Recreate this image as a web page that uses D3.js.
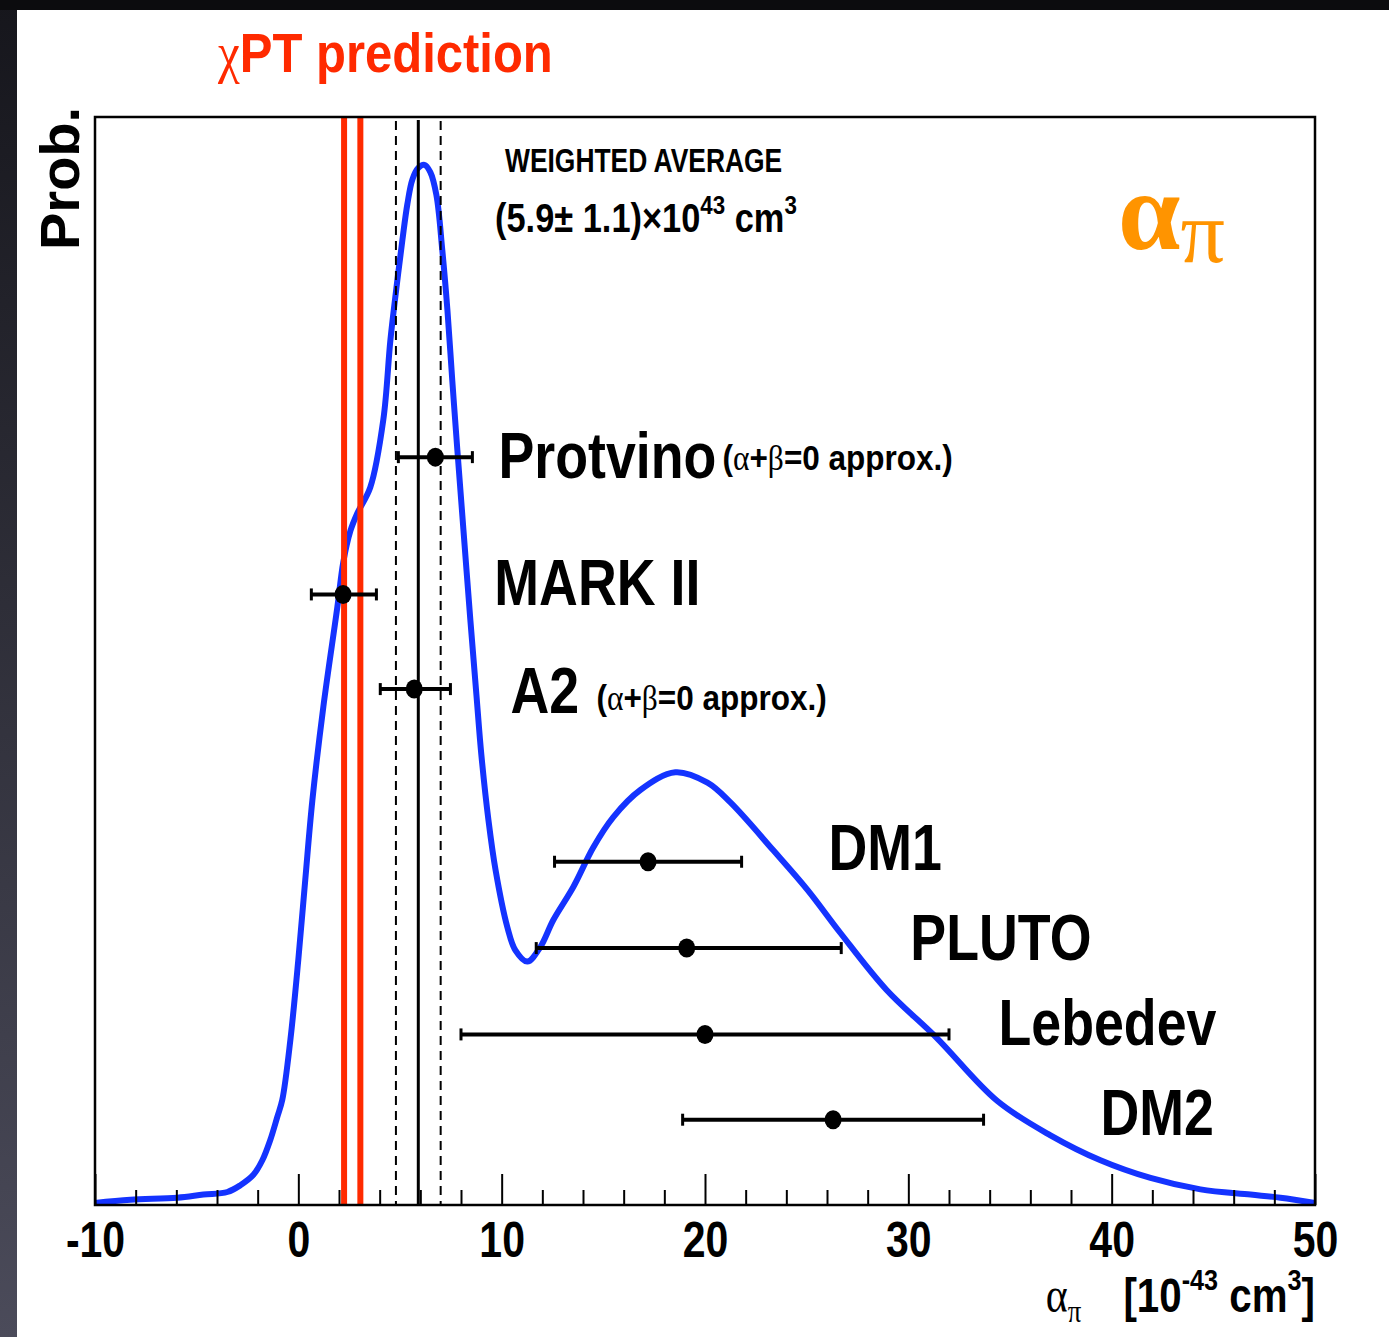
<!DOCTYPE html>
<html>
<head>
<meta charset="utf-8">
<script src="https://cdn.jsdelivr.net/npm/d3@7"></script>
<style>
  html, body { margin: 0; padding: 0; background: #fff; }
  svg { display: block; }
</style>
</head>
<body>
<svg id="chart" width="1389" height="1337"></svg>
<script>
// probability curve (alpha in 1e-43 cm^3, prob in arb. units, peak = 1)
const alphaGrid = [-10, -8.26, -5.95, -4.67, -3.49, -2.85, -2.21, -1.77, -1.38, -1.03, -0.79, -0.39,
  0, 0.34, 0.69, 1.23, 1.92, 2.21, 2.56, 2.9, 3.54, 4.18, 4.53, 4.82, 5.12, 5.36, 5.61, 5.9, 6.2,
  6.49, 6.79, 7.08, 7.33, 7.57, 7.82, 8.12, 8.46, 8.76, 9.0, 9.35, 9.7, 10.28, 10.67, 11.26, 11.9,
  12.54, 13.53, 14.51, 15.49, 16.82, 18.54, 20.12, 21.25, 23.36, 25.04, 26.66, 28.92, 31.38, 34.38,
  36.99, 39.45, 41.91, 44.37, 46.83, 48.3, 50];
const probDensity = [0.002, 0.005, 0.007, 0.010, 0.0125, 0.019, 0.029, 0.043, 0.0625, 0.085, 0.101, 0.159,
  0.236, 0.3125, 0.389, 0.479, 0.575, 0.618, 0.648, 0.665, 0.690, 0.755, 0.832, 0.881, 0.928, 0.962, 0.986, 0.997, 1.0,
  0.993, 0.971, 0.918, 0.861, 0.793, 0.726, 0.649, 0.5625, 0.490, 0.433, 0.370, 0.322, 0.267, 0.245, 0.234, 0.248,
  0.274, 0.306, 0.344, 0.373, 0.399, 0.416, 0.406, 0.387, 0.341, 0.303, 0.2615, 0.207, 0.161, 0.100,
  0.067, 0.043, 0.026, 0.015, 0.010, 0.007, 0.002];

// measurements
const expNames = ["Protvino", "MARK II", "A2", "DM1", "PLUTO", "Lebedev", "DM2"];
const expNotes = ["(α+β=0 approx.)", "", "(α+β=0 approx.)", "", "", "", ""];
const expValue = [6.74, 2.2, 5.7, 17.2, 19.1, 20.0, 26.3];
const expLow = [4.92, 0.64, 4.03, 12.6, 11.7, 8.0, 18.9];
const expHigh = [8.56, 3.84, 7.48, 21.8, 26.7, 32.0, 33.7];
const expRow = [0.719, 0.587, 0.496, 0.330, 0.247, 0.164, 0.082];

const chptLines = [2.25, 3.05];
const avgValue = 5.9;
const avgErr = 1.1;

const majorTicks = [-10, 0, 10, 20, 30, 40, 50];
const minorTicks = d3.range(-10, 51, 2).filter(d => d % 10 !== 0);

// layout of the labels (not data)
const labelX = [9.84, 9.64, 10.43, 26.07, 30.1, 34.43, 39.45];
const labelDy = [21, 11, 24, 8, 12, 11, 15];
const noteX = [20.86, 0, 14.66, 0, 0, 0, 0];
const noteDy = [13, 0, 21, 0, 0, 0, 0];

const W = 1389, H = 1337;
const margin = { top: 117, left: 95, bottom: 1205, right: 1315 };
const sans = "'Liberation Sans', Arial, Helvetica, sans-serif";
const serif = "'Liberation Serif', 'Times New Roman', serif";

const svg = d3.select("#chart");

// dark border like the slide
const defs = svg.append("defs");
const grad = defs.append("linearGradient").attr("id", "side").attr("x1", 0).attr("y1", 0).attr("x2", 0).attr("y2", 1);
grad.append("stop").attr("offset", "0%").attr("stop-color", "#16161c");
grad.append("stop").attr("offset", "100%").attr("stop-color", "#4b4b5a");
svg.append("rect").attr("width", W).attr("height", H).attr("fill", "url(#side)");
svg.append("rect").attr("width", W).attr("height", 10).attr("fill", "#0c0c0e");
svg.append("rect").attr("x", 17).attr("y", 10).attr("width", W - 17).attr("height", H - 10).attr("fill", "#fff");

const x = d3.scaleLinear().domain([-10, 50]).range([margin.left, margin.right]);
const y = d3.scaleLinear().domain([0, 1.046]).range([margin.bottom, margin.top]);

// squeezed bold text, like the condensed Helvetica in the original
function label(g, px, py, size, sx, anchor) {
  return g.append("text")
    .attr("transform", `translate(${px},${py}) scale(${sx},1)`)
    .attr("text-anchor", anchor || "start")
    .style("font-family", sans)
    .style("font-weight", "bold")
    .style("font-size", size + "px");
}

// probability curve
const line = d3.line().x(d => x(d[0])).y(d => y(d[1])).curve(d3.curveCatmullRom.alpha(0.5));
svg.append("path")
  .datum(alphaGrid.map((a, i) => [a, probDensity[i]]))
  .attr("d", line)
  .attr("fill", "none")
  .attr("stroke", "#1433ff")
  .attr("stroke-width", 6)
  .attr("stroke-linejoin", "round");

// chiPT prediction band edges
svg.selectAll("line.chpt").data(chptLines).join("line")
  .attr("class", "chpt")
  .attr("x1", d => x(d)).attr("x2", d => x(d))
  .attr("y1", margin.top).attr("y2", margin.bottom)
  .attr("stroke", "#ff2a00").attr("stroke-width", 6);

// weighted average and its error
svg.selectAll("line.avgErr").data([avgValue - avgErr, avgValue + avgErr]).join("line")
  .attr("class", "avgErr")
  .attr("x1", d => x(d)).attr("x2", d => x(d))
  .attr("y1", margin.top + 4).attr("y2", margin.bottom)
  .attr("stroke", "#000").attr("stroke-width", 2)
  .attr("stroke-dasharray", "9,6");
svg.append("line")
  .attr("x1", x(avgValue)).attr("x2", x(avgValue))
  .attr("y1", margin.top + 3).attr("y2", margin.bottom)
  .attr("stroke", "#000").attr("stroke-width", 3);

// measurements with error bars
const meas = svg.append("g");
expNames.forEach((name, i) => {
  const cy = y(expRow[i]);
  meas.append("line")
    .attr("x1", x(expLow[i])).attr("x2", x(expHigh[i]))
    .attr("y1", cy).attr("y2", cy)
    .attr("stroke", "#000").attr("stroke-width", 4);
  [expLow[i], expHigh[i]].forEach(v => {
    meas.append("line")
      .attr("x1", x(v)).attr("x2", x(v))
      .attr("y1", cy - 6).attr("y2", cy + 6)
      .attr("stroke", "#000").attr("stroke-width", 3);
  });
  meas.append("ellipse")
    .attr("cx", x(expValue[i])).attr("cy", cy)
    .attr("rx", 8.5).attr("ry", 9.5).attr("fill", "#000");

  label(meas, x(labelX[i]), cy + labelDy[i], 64, 0.84).text(name);
  if (expNotes[i]) {
    const t = label(meas, x(noteX[i]), cy + noteDy[i], 35, 0.9);
    expNotes[i].split(/([αβ])/).forEach(part => {
      if (!part) return;
      const s = t.append("tspan").text(part);
      if (part === "α" || part === "β") s.style("font-family", serif).style("font-weight", "normal");
    });
  }
});

// x axis: major and minor ticks pointing inwards
const axisG = svg.append("g").attr("transform", `translate(0,${margin.bottom})`);
axisG.call(d3.axisBottom(x).tickValues(majorTicks).tickSize(-31).tickPadding(17).tickFormat(d => String(d)))
  .call(g => g.select(".domain").remove())
  .call(g => g.selectAll(".tick line").attr("stroke-width", 2))
  .call(g => g.selectAll(".tick text")
    .attr("fill", "#000")
    .attr("transform", "scale(0.82,1)")
    .style("font-family", sans).style("font-weight", "bold").style("font-size", "50px"));
svg.append("g").attr("transform", `translate(0,${margin.bottom})`)
  .call(d3.axisBottom(x).tickValues(minorTicks).tickSize(-15).tickFormat(""))
  .call(g => g.select(".domain").remove())
  .call(g => g.selectAll(".tick line").attr("stroke-width", 2));

// frame
svg.append("rect")
  .attr("x", margin.left).attr("y", margin.top)
  .attr("width", margin.right - margin.left).attr("height", margin.bottom - margin.top)
  .attr("fill", "none").attr("stroke", "#000").attr("stroke-width", 2.5);

// axis titles
const xt = label(svg, margin.right, 1312, 48, 0.84, "end");
xt.append("tspan").text("α").style("font-family", serif).style("font-weight", "normal").style("font-size", "50px");
xt.append("tspan").text("π").attr("dy", 10).style("font-family", serif).style("font-weight", "normal").style("font-size", "32px");
xt.append("tspan").text("[10").attr("dx", 50).attr("dy", -10);
xt.append("tspan").text("-43").attr("dy", -22).style("font-size", "30px");
xt.append("tspan").text(" cm").attr("dy", 22);
xt.append("tspan").text("3").attr("dy", -22).style("font-size", "30px");
xt.append("tspan").text("]").attr("dy", 22);

svg.append("text")
  .attr("transform", "translate(79,250) rotate(-90)")
  .style("font-family", sans).style("font-weight", "bold").style("font-size", "56px")
  .text("Prob.");

// header
const hd = label(svg, 218, 72, 56, 0.875).attr("fill", "#ff2a00");
hd.append("tspan").text("χ").style("font-family", serif).style("font-weight", "normal");
hd.append("tspan").text("PT prediction");

label(svg, 505, 172, 33, 0.8).text("WEIGHTED AVERAGE");
const wa = label(svg, 495, 232, 40, 0.86);
wa.append("tspan").text("(5.9± 1.1)×10");
wa.append("tspan").text("43").attr("dy", -18).style("font-size", "26px");
wa.append("tspan").text(" cm").attr("dy", 18);
wa.append("tspan").text("3").attr("dy", -18).style("font-size", "26px");

const ap = svg.append("text").attr("x", 1118).attr("y", 249)
  .attr("fill", "#ff9400").style("font-family", serif);
ap.append("tspan").text("α").style("font-size", "112px").style("font-weight", "bold");
ap.append("tspan").text("π").attr("dy", 13).style("font-size", "88px");
</script>
</body>
</html>
